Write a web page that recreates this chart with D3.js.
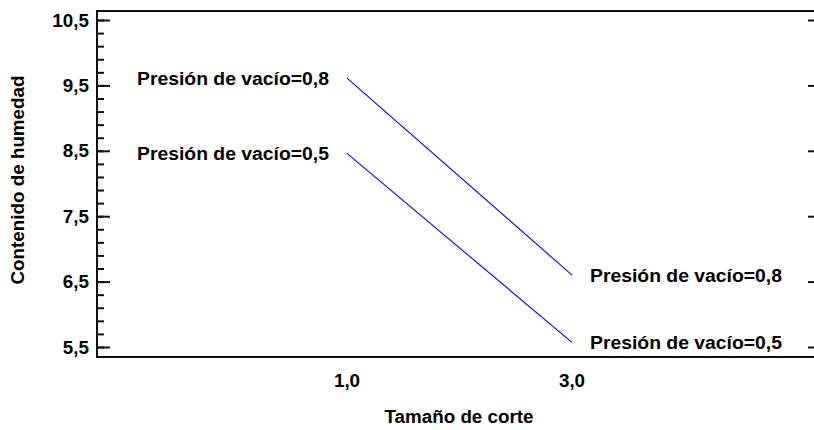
<!DOCTYPE html>
<html>
<head>
<meta charset="utf-8">
<script src="https://cdn.jsdelivr.net/npm/d3@7"></script>
<style>
  html, body { margin: 0; padding: 0; background: #fff; }
  svg { display: block; }
  text { font-family: "Liberation Sans", Arial, sans-serif; font-weight: bold; fill: #000; }
</style>
</head>
<body>
<svg id="chart" width="814" height="430"></svg>
<script>
// ---- data ----
const xCategories = [1, 3];
const xTickLabels = ["1,0", "3,0"];
const yTickValues = [5.5, 6.5, 7.5, 8.5, 9.5, 10.5];
const yTickLabels = ["5,5", "6,5", "7,5", "8,5", "9,5", "10,5"];
const seriesNames = ["Presión de vacío=0,8", "Presión de vacío=0,5"];
const seriesHigh = [9.61, 6.60];   // Presión de vacío = 0,8
const seriesLow = [8.46, 5.57];    // Presión de vacío = 0,5
const xTitle = "Tamaño de corte";
const yTitle = "Contenido de humedad";

const series = [
  { name: seriesNames[0], values: seriesHigh },
  { name: seriesNames[1], values: seriesLow }
];

// ---- layout ----
const svg = d3.select("#chart");
const mLeft = 97, mTop = 11, mBottom = 357, mRight = 818;
const stretch = 1.075;

const x = d3.scaleLinear().domain([1, 3]).range([347, 572]);
const y = d3.scaleLinear().domain([10.5, 5.5]).range([20, 347]);

function stretchText(sel) {
  sel.each(function () {
    const w = this.getComputedTextLength();
    d3.select(this).attr("textLength", w * stretch).attr("lengthAdjust", "spacingAndGlyphs");
  });
}

// frame lines (left, top, bottom)
const frame = svg.append("g").attr("stroke", "#111").attr("stroke-width", 2).attr("fill", "none");
frame.append("line").attr("x1", mLeft).attr("x2", mLeft).attr("y1", mTop).attr("y2", mBottom);
frame.append("line").attr("x1", mLeft - 1).attr("x2", mRight).attr("y1", mTop).attr("y2", mTop);
frame.append("line").attr("x1", mLeft - 1).attr("x2", mRight).attr("y1", mBottom).attr("y2", mBottom);

// left axis: major & minor ticks inward
const minorTicks = d3.range(5.5, 10.51, 0.2).map(v => +v.toFixed(2));
const yAxisMinor = d3.axisRight(y).tickValues(minorTicks).tickSize(7).tickFormat("");
const gMinor = svg.append("g").attr("transform", `translate(${mLeft},0)`).call(yAxisMinor);
const yAxisMajor = d3.axisRight(y).tickValues(yTickValues).tickSize(13).tickFormat("");
const gMajor = svg.append("g").attr("transform", `translate(${mLeft},0)`).call(yAxisMajor);
[gMinor, gMajor].forEach(g => {
  g.select(".domain").remove();
  g.selectAll(".tick line").attr("stroke", "#111").attr("stroke-width", 2);
});

// right axis ticks (major only, inward)
const yAxisRight = d3.axisLeft(y).tickValues(yTickValues).tickSize(8).tickFormat("");
const gRight = svg.append("g").attr("transform", `translate(816,0)`).call(yAxisRight);
gRight.select(".domain").remove();
gRight.selectAll(".tick line").attr("stroke", "#111").attr("stroke-width", 2);

// y tick labels
svg.append("g").selectAll("text").data(yTickValues).join("text")
  .attr("x", 89).attr("y", d => y(d) + 6.5)
  .attr("text-anchor", "end").attr("font-size", 17.5)
  .text((d, i) => yTickLabels[i])
  .call(stretchText);

// x tick labels (no tick marks)
svg.append("g").selectAll("text").data(xCategories).join("text")
  .attr("x", d => x(d)).attr("y", 387)
  .attr("text-anchor", "middle").attr("font-size", 17.5)
  .text((d, i) => xTickLabels[i])
  .call(stretchText);

// axis titles
svg.append("text").attr("x", 459).attr("y", 423).attr("text-anchor", "middle")
  .attr("font-size", 17.5).text(xTitle).call(stretchText);
svg.append("text").attr("transform", "translate(24,180) rotate(-90)").attr("text-anchor", "middle")
  .attr("font-size", 17.5).text(yTitle).call(stretchText);

// lines
const line = d3.line().x((d, i) => x(xCategories[i])).y(d => y(d));
svg.append("g").selectAll("path").data(series).join("path")
  .attr("d", d => line(d.values))
  .attr("fill", "none").attr("stroke", "#0000ff").attr("stroke-width", 1.1);

// labels at both ends
const lab = svg.append("g");
series.forEach(s => {
  lab.append("text").attr("x", x(xCategories[0]) - 18).attr("y", y(s.values[0]) + 6.5)
    .attr("text-anchor", "end").attr("font-size", 18).text(s.name).call(stretchText);
  lab.append("text").attr("x", x(xCategories[1]) + 18).attr("y", y(s.values[1]) + 6.5)
    .attr("text-anchor", "start").attr("font-size", 18).text(s.name).call(stretchText);
});
</script>
</body>
</html>
